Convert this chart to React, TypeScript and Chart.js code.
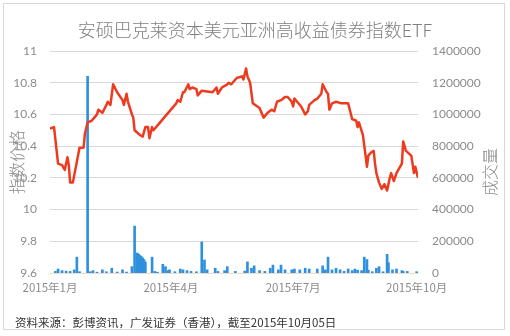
import React, { useEffect, useRef } from "react";
import { Chart, registerables } from "chart.js";

Chart.register(...registerables);

// Day offsets are counted from 2015-01-01.
const priceDays = [
  0, 3, 6, 9, 11, 13, 14, 15, 17, 22, 25, 26, 28, 31, 33, 35, 36, 39, 42, 43,
  45, 47, 50, 54, 55, 57, 58, 61, 62, 63, 67, 69, 71, 73, 74, 76, 77, 82, 87, 91,
  94, 95, 97, 99, 100, 103, 104, 106, 109, 110, 113, 121, 124, 125, 128, 132, 133, 135, 139, 143,
  144, 146, 147, 149, 151, 156, 159, 162, 165, 167, 169, 172, 175, 177, 180, 181, 182, 184, 187, 190,
  192, 193, 197, 199, 202, 203, 206, 207, 208, 210, 213, 217, 222, 225, 228, 229, 230, 233, 236, 237,
  239, 241, 242, 243, 245, 247, 249, 251, 253, 254, 256, 258, 260, 262, 263, 265, 269, 271, 272, 274,
];
const priceValues = [
  10.51, 10.52, 10.29, 10.28, 10.25, 10.33, 10.28, 10.17, 10.17, 10.39, 10.39, 10.48, 10.55, 10.56, 10.58, 10.6, 10.63, 10.61, 10.66, 10.68,
  10.66, 10.79, 10.74, 10.69, 10.66, 10.73, 10.68, 10.6, 10.58, 10.5, 10.47, 10.46, 10.52, 10.52, 10.45, 10.52, 10.5, 10.55, 10.6, 10.64,
  10.67, 10.69, 10.68, 10.74, 10.74, 10.79, 10.76, 10.77, 10.76, 10.72, 10.75, 10.74, 10.77, 10.73, 10.77, 10.79, 10.8, 10.79, 10.83, 10.84,
  10.82, 10.89, 10.84, 10.8, 10.67, 10.64, 10.58, 10.61, 10.63, 10.62, 10.68, 10.69, 10.71, 10.71, 10.68, 10.65, 10.7, 10.68, 10.65, 10.6,
  10.62, 10.66, 10.69, 10.7, 10.73, 10.79, 10.74, 10.73, 10.63, 10.67, 10.68, 10.67, 10.67, 10.57, 10.56, 10.52, 10.55, 10.47, 10.27, 10.34,
  10.36, 10.37, 10.29, 10.23, 10.17, 10.13, 10.16, 10.12, 10.2, 10.23, 10.18, 10.23, 10.26, 10.29, 10.43, 10.37, 10.34, 10.23, 10.27, 10.2,
];

const volumeDays = [
  4, 6, 9, 12, 15, 18, 20, 22, 28, 30, 32, 35, 39, 42, 46, 50, 54, 57, 61, 63,
  65, 66, 67, 68, 69, 70, 71, 76, 78, 80, 84, 86, 88, 89, 93, 97, 99, 102, 105, 109,
  113, 115, 117, 123, 125, 130, 132, 138, 145, 147, 150, 152, 156, 160, 164, 166, 170, 172, 175, 180,
  182, 186, 190, 193, 199, 203, 205, 207, 210, 213, 216, 219, 222, 225, 227, 229, 232, 234, 236, 237,
  240, 243, 245, 248, 251, 252, 255, 258, 262, 263, 266, 273,
];
const volumeValues = [
  10000, 25000, 15000, 12000, 10000, 20000, 100000, 8000, 1240000, 8000, 15000, 5000, 20000, 8000, 30000, 6000, 20000, 6000, 40000, 296000,
  126000, 118000, 110000, 104000, 95000, 85000, 70000, 100000, 10000, 5000, 55000, 40000, 15000, 20000, 8000, 25000, 20000, 15000, 10000, 8000,
  196000, 82000, 20000, 30000, 10000, 15000, 40000, 10000, 12000, 70000, 30000, 45000, 15000, 10000, 30000, 50000, 20000, 50000, 20000, 20000,
  25000, 20000, 30000, 25000, 25000, 45000, 20000, 100000, 20000, 30000, 20000, 10000, 25000, 15000, 25000, 18000, 15000, 100000, 85000, 18000,
  8000, 30000, 40000, 8000, 118000, 65000, 20000, 25000, 15000, 10000, 10000, 8000,
];

const xTickDays = [0, 90, 181, 273];
const xTickLabels = ["2015年1月", "2015年4月", "2015年7月", "2015年10月"];

const titleText = "安硕巴克莱资本美元亚洲高收益债券指数ETF";
const leftAxisTitle = "指数价格";
const rightAxisTitle = "成交量";
const sourceNote = "资料来源：彭博资讯，广发证券（香港），截至2015年10月05日";

const CJK = '"Noto Sans CJK SC", "Noto Sans", sans-serif';
const NUM = 'Lato, "Liberation Sans", sans-serif';

const decorations = {
  id: "decorations",
  beforeDraw(chart: any) {
    const { ctx, width, height } = chart;
    ctx.save();
    ctx.fillStyle = "#ffffff";
    ctx.fillRect(0, 0, width, height);
    ctx.strokeStyle = "#d9d9d9";
    ctx.lineWidth = 1;
    ctx.strokeRect(3.5, 3.5, 501, 326);
    ctx.restore();
  },
  afterDraw(chart: any) {
    const { ctx } = chart;
    ctx.save();
    ctx.fillStyle = "#808080";
    ctx.font = `300 18px ${CJK}`;
    ctx.textAlign = "center";
    ctx.textBaseline = "middle";
    ctx.fillText(titleText, 255, 30);

    ctx.fillStyle = "#8c8c8c";
    ctx.font = `300 16px ${CJK}`;
    ctx.save();
    ctx.translate(17, 162);
    ctx.rotate(-Math.PI / 2);
    ctx.fillText(leftAxisTitle, 0, 0);
    ctx.restore();
    ctx.save();
    ctx.translate(490, 172);
    ctx.rotate(-Math.PI / 2);
    ctx.fillText(rightAxisTitle, 0, 0);
    ctx.restore();

    ctx.fillStyle = "#333333";
    ctx.font = `11.5px ${CJK}`;
    ctx.textAlign = "left";
    ctx.fillText(sourceNote, 15, 323);
    ctx.restore();
  },
};

export default function App() {
  const canvasRef = useRef<HTMLCanvasElement | null>(null);

  useEffect(() => {
    const canvas = canvasRef.current;
    if (!canvas) return;
    const chart = new Chart(canvas, {
      data: {
        datasets: [
          {
            type: "line",
            label: "指数价格",
            data: priceDays.map((d, i) => ({ x: d, y: priceValues[i] })),
            yAxisID: "y",
            borderColor: "#ee3b1f",
            borderWidth: 2.5,
            pointRadius: 0,
            tension: 0,
            borderJoinStyle: "round",
            order: 1,
          },
          {
            type: "bar",
            label: "成交量",
            data: volumeDays.map((d, i) => ({ x: d, y: volumeValues[i] })),
            yAxisID: "y1",
            backgroundColor: "#2e90de",
            barThickness: 2,
            order: 2,
          },
        ],
      } as any,
      options: {
        responsive: false,
        animation: false,
        layout: { padding: { top: 51, left: 0, right: 0, bottom: 0 } },
        plugins: {
          legend: { display: false },
          title: { display: false },
          tooltip: { enabled: false },
        },
        scales: {
          x: {
            type: "linear",
            offset: false,
            min: 0,
            max: 274,
            afterBuildTicks: (scale: any) => {
              scale.ticks = xTickDays.map((v) => ({ value: v }));
            },
            afterFit: (scale: any) => {
              scale.height = 63;
            },
            grid: { display: false, drawTicks: false, offset: false },
            border: { display: true, color: "#f1ddd2", width: 1 },
            ticks: {
              padding: 8,
              maxRotation: 0,
              autoSkip: false,
              color: "#8c8c8c",
              font: { family: CJK, size: 11.5 },
              callback: (v: any) => {
                const i = xTickDays.indexOf(Number(v));
                return i >= 0 ? xTickLabels[i] : "";
              },
            },
          },
          y: {
            position: "left",
            min: 9.6,
            max: 11,
            afterFit: (scale: any) => {
              scale.width = 50;
            },
            grid: { color: "#d9d9d9", drawTicks: false },
            border: { display: false },
            ticks: {
              stepSize: 0.2,
              padding: 13,
              color: "#8c8c8c",
              font: { family: NUM, size: 12 },
              callback: (v: any) => String(Number(Number(v).toFixed(1))),
            },
          },
          y1: {
            position: "right",
            min: 0,
            max: 1400000,
            afterFit: (scale: any) => {
              scale.width = 92;
            },
            grid: { display: false, drawTicks: false },
            border: { display: false },
            ticks: {
              stepSize: 200000,
              padding: 14,
              color: "#8c8c8c",
              font: { family: NUM, size: 12 },
              callback: (v: any) => String(v),
            },
          },
        },
      } as any,
      plugins: [decorations],
    });
    return () => chart.destroy();
  }, []);

  return (
    <div style={{ position: "fixed", left: 0, top: 0, width: 510, height: 336, background: "#fff" }}>
      <canvas ref={canvasRef} width={510} height={336} style={{ display: "block" }} />
    </div>
  );
}
